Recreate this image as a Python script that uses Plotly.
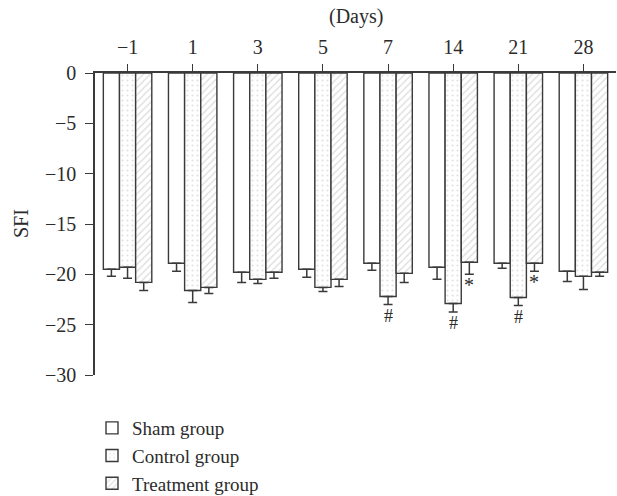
import plotly.graph_objects as go

# ---- data ----
days = ["−1", "1", "3", "5", "7", "14", "21", "28"]
sham_mean = [-19.5, -18.9, -19.8, -19.5, -18.9, -19.3, -18.9, -19.7]
sham_err = [0.7, 0.8, 1.0, 0.8, 0.7, 1.2, 0.5, 1.0]
control_mean = [-19.3, -21.6, -20.5, -21.3, -22.2, -22.9, -22.3, -20.2]
control_err = [1.1, 1.2, 0.4, 0.4, 0.8, 0.85, 0.8, 1.3]
treat_mean = [-20.8, -21.3, -19.8, -20.5, -19.9, -18.8, -18.9, -19.8]
treat_err = [0.8, 0.6, 0.6, 0.7, 0.9, 1.2, 0.8, 0.4]
hash_days = ["7", "14", "21"]   # '#' under control bars
star_days = ["14", "21"]        # '*' under treatment bars
y_ticks = [0, -5, -10, -15, -20, -25, -30]
y_ticktext = ["0", "−5", "−10", "−15", "−20", "−25", "−30"]

FONT = "Liberation Serif"
INK = "#2b2b2b"
EDGE = "#3a3a3a"

W, H = 617, 496
L, R, T, B = 95, 1, 73, 121
PW, PH = W - L - R, H - T - B

fig = go.Figure()

def add_bar(name, means, errs, shape, fg, sol):
    fig.add_trace(go.Bar(
        name=name, x=days, y=means,
        marker=dict(
            color="white",
            line=dict(color=EDGE, width=1.4),
            pattern=dict(shape=shape, fgcolor=fg, bgcolor="white",
                         size=5, solidity=sol, fillmode="overlay"),
        ),
        error_y=dict(type="data", symmetric=False,
                     array=[0] * len(errs), arrayminus=errs,
                     color=EDGE, thickness=1.5, width=4.5),
    ))

add_bar("Sham group", sham_mean, sham_err, "", "#ffffff", 0.2)
add_bar("Control group", control_mean, control_err, ".", "#c4c4c4", 0.15)
add_bar("Treatment group", treat_mean, treat_err, "/", "#b8b8b8", 0.25)

annotations = []
for d in hash_days:
    i = days.index(d)
    annotations.append(dict(x=i, y=control_mean[i] - control_err[i],
                            xref="x", yref="y", text="#", showarrow=False,
                            yanchor="top", yshift=1,
                            font=dict(family=FONT, size=18, color=INK)))
for d in star_days:
    i = days.index(d)
    annotations.append(dict(x=i, y=treat_mean[i] - treat_err[i],
                            xref="x", yref="y", text="*", showarrow=False,
                            yanchor="top", xshift=16, yshift=2,
                            font=dict(family=FONT, size=20, color=INK)))

# axis titles as paper annotations
annotations.append(dict(text="(Days)", xref="paper", yref="paper",
                        x=0.5, y=(H - B - 16) / PH, yanchor="middle",
                        showarrow=False, font=dict(family=FONT, size=20, color=INK)))
annotations.append(dict(text="SFI", xref="paper", yref="paper",
                        x=(21 - L) / PW, y=0.5, xanchor="center", yanchor="middle",
                        textangle=-90,
                        showarrow=False, font=dict(family=FONT, size=20, color=INK)))

fig.update_layout(
    width=W, height=H,
    margin=dict(l=L, r=R, t=T, b=B, autoexpand=False),
    paper_bgcolor="white", plot_bgcolor="white",
    font=dict(family=FONT, size=20, color=INK),
    barmode="group", bargap=0.256, bargroupgap=0,
    showlegend=True,
    legend=dict(xref="container", yref="container",
                x=92 / W, y=1 - 409 / H, xanchor="left", yanchor="top",
                font=dict(family=FONT, size=19, color=INK),
                bgcolor="rgba(0,0,0,0)", tracegroupgap=0),
    annotations=annotations,
    xaxis=dict(
        side="top", type="category", range=[-0.5, 7.5],
        showline=True, linecolor=EDGE, linewidth=1.5,
        ticks="outside", ticklen=7, tickwidth=1.3, tickcolor=EDGE,
        showgrid=False, zeroline=False, ticklabelstandoff=2,
        tickfont=dict(size=20),
    ),
    yaxis=dict(
        range=[-30, 0], tickvals=y_ticks, ticktext=y_ticktext,
        showline=True, linecolor=EDGE, linewidth=1.5,
        ticks="outside", ticklen=8, tickwidth=1.3, tickcolor=EDGE,
        showgrid=False, zeroline=False, ticklabelstandoff=5,
        tickfont=dict(size=20),
    ),
)

fig.write_html("out.html", config={"displayModeBar": False},
               post_script="document.body.style.margin='0';document.body.style.overflow='hidden';")
